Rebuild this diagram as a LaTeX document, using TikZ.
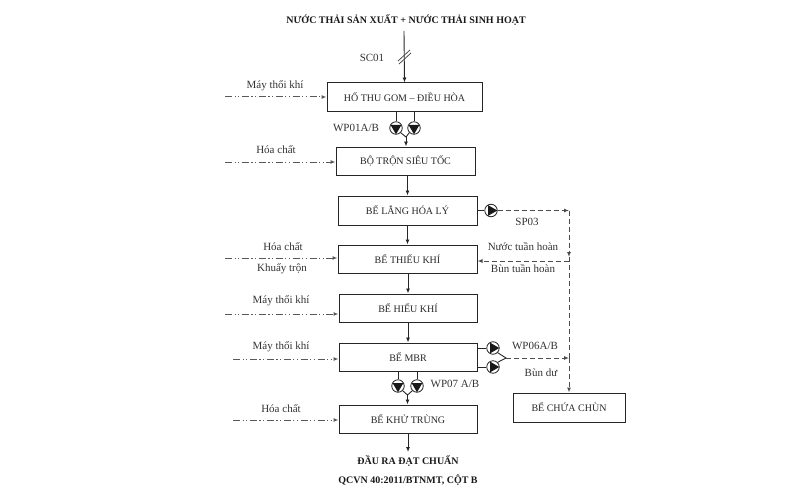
\documentclass[tikz,border=0pt]{standalone}
\usepackage{fontspec}
\setmainfont{Liberation Serif}
\usetikzlibrary{arrows.meta}
\tikzset{
  box/.style={draw=black!85, line width=1pt, minimum width=139pt, minimum height=28pt, inner sep=1pt, font=\fontsize{10}{11}\selectfont, text=black!85},
  lbl/.style={font=\fontsize{11}{12}\selectfont, text=black!80, inner sep=0.5pt},
  ttl/.style={font=\bfseries\fontsize{10}{11}\selectfont, text=black!90, inner sep=0.5pt},
  flow/.style={draw=black!85, line width=0.9pt},
  tip/.style={-{Latex[length=5pt,width=4pt]}},
  feed/.style={draw=black!65, line width=1pt, dash pattern=on 7pt off 2.5pt on 1.2pt off 2.5pt on 1.2pt off 2.5pt},
  dsh/.style={draw=black!70, line width=1pt, dash pattern=on 5pt off 3pt},
  pumpd/.style={circle, draw=black!85, line width=0.8pt, fill=white, minimum size=12.5pt, inner sep=0pt,
    path picture={\fill[black!90] ([xshift=-5.4pt,yshift=3pt]path picture bounding box.center) -- ([xshift=5.4pt,yshift=3pt]path picture bounding box.center) -- ([yshift=-6.3pt]path picture bounding box.center) -- cycle;}},
  pumpr/.style={circle, draw=black!85, line width=0.8pt, fill=white, minimum size=12.5pt, inner sep=0pt,
    path picture={\fill[black!90] ([xshift=-3pt,yshift=5.4pt]path picture bounding box.center) -- ([xshift=-3pt,yshift=-5.4pt]path picture bounding box.center) -- ([xshift=6.3pt]path picture bounding box.center) -- cycle;}},
}
\begin{document}
\begin{tikzpicture}[x=1pt,y=-1pt]
\useasboundingbox (0,0) rectangle (800,500);
% title
\node[ttl] (title) at (406,20) {NƯỚC THẢI SẢN XUẤT + NƯỚC THẢI SINH HOẠT};
% boxes
\node[box, minimum width=155pt, minimum height=29pt] (b1) at (404.5,97.5) {HỐ THU GOM – ĐIỀU HÒA};
\node[box] (b2) at (405.5,161) {BỘ TRỘN SIÊU TỐC};
\node[box, minimum height=29pt] (b3) at (407.5,210.5) {BỂ LẮNG HÓA LÝ};
\node[box] (b4) at (407.5,259) {BỂ THIẾU KHÍ};
\node[box, minimum width=138pt] (b5) at (408,308) {BỂ HIẾU KHÍ};
\node[box, minimum width=138pt] (b6) at (408,357) {BỂ MBR};
\node[box, minimum width=138pt] (b7) at (408,419) {BỂ KHỬ TRÙNG};
\node[box, minimum width=112pt, minimum height=29pt] (b8) at (569,407.5) {BỂ CHỨA CHÙN};
% inlet
\coordinate (in1) at (404,31);
\draw[flow,tip] (in1) -- (b1.north);
\coordinate (sl) at (405,57);
\draw[black!70, line width=0.8pt] ([shift={(-7,4)}]sl) -- ([shift={(5,-7)}]sl);
\draw[black!70, line width=0.8pt] ([shift={(-6,7)}]sl) -- ([shift={(6,-4)}]sl);
\node[lbl] (sc01) at (372,58) {SC01};
% WP01
\node[pumpd] (p1a) at (396,128) {};
\node[pumpd] (p1b) at (414,128) {};
\draw[flow] (b1.south -| p1a) -- (p1a);
\draw[flow] (b1.south -| p1b) -- (p1b);
\coordinate (j1) at (406,137);
\draw[flow] (p1a.south east) -- (j1) -- (p1b.south west);
\draw[flow,tip] (j1) -- (j1 |- b2.north);
\node[lbl] (wp01) at (356,128) {WP01A/B};
% main flow
\draw[flow,tip] (b2.south -| b3.north) -- (b3.north);
\draw[flow,tip] (b3.south) -- (b4.north);
\draw[flow,tip] (b4.south -| b5.north) -- (b5.north);
\draw[flow,tip] (b5.south) -- (b6.north);
% WP07
\node[pumpd] (p7a) at (398,386) {};
\node[pumpd] (p7b) at (417,386) {};
\draw[flow] (b6.south -| p7a) -- (p7a);
\draw[flow] (b6.south -| p7b) -- (p7b);
\coordinate (j7) at (407.5,395);
\draw[flow] (p7a.south east) -- (j7) -- (p7b.south west);
\draw[flow,tip] (j7) -- (j7 |- b7.north);
\node[lbl] (wp07) at (455,384) {WP07 A/B};
% outlet
\coordinate (out) at (408,452);
\draw[flow,tip] (b7.south) -- (out);
\node[ttl] (o1) at (408,461) {ĐẦU RA ĐẠT CHUẨN};
\node[ttl] (o2) at (408,480) {QCVN 40:2011/BTNMT, CỘT B};
% left feeds
\coordinate (f1) at (225,97);
\draw[feed,tip] (f1) -- (f1 -| b1.west);
\node[lbl] (l1) at (275,86) {Máy thổi khí};
\coordinate (f2) at (225,162);
\draw[feed,tip] (f2) -- (f2 -| b2.west);
\node[lbl] (l2) at (276,150) {Hóa chất};
\coordinate (f4) at (225,258);
\draw[feed,tip] (f4) -- (f4 -| b4.west);
\node[lbl] (l4a) at (283,247) {Hóa chất};
\node[lbl] (l4b) at (282,269) {Khuấy trộn};
\coordinate (f5) at (225,314);
\draw[feed,tip] (f5) -- (f5 -| b5.west);
\node[lbl] (l5) at (281,301) {Máy thổi khí};
\coordinate (f6) at (233,359);
\draw[feed,tip] (f6) -- (f6 -| b6.west);
\node[lbl] (l6) at (281,347) {Máy thổi khí};
\coordinate (f7) at (233,420);
\draw[feed,tip] (f7) -- (f7 -| b7.west);
\node[lbl] (l7) at (281,409) {Hóa chất};
% SP03 recirculation
\node[pumpr] (p3) at (491,210.5) {};
\draw[flow] (b3.east) -- (p3);
\coordinate (c1) at (569,210.5);
\coordinate (c2) at (569,257);
\coordinate (c3) at (569,261);
\coordinate (c4) at (569,358);
\draw[dsh,tip] (p3.east) -- (c1);
\draw[dsh,tip] (c1) -- (c2);
\draw[dsh] (c2) -- (c4);
\draw[dsh,tip] (c4) -- (b8.north);
\draw[dsh,tip] (c3) -- (c3 -| b4.east);
\node[lbl] (sp03) at (527,222) {SP03};
\node[lbl] (ntw) at (523,247) {Nước tuần hoàn};
\node[lbl] (btw) at (523,269) {Bùn tuần hoàn};
% WP06
\node[pumpr] (p6a) at (493,348) {};
\node[pumpr] (p6b) at (493,367) {};
\draw[flow] (b6.east |- p6a) -- (p6a);
\draw[flow] (b6.east |- p6b) -- (p6b);
\coordinate (j6) at (506,358);
\draw[flow] (p6a.south east) -- (j6) -- (p6b.north east);
\draw[dsh,tip] (j6) -- (c4);
\node[lbl] (wp06) at (535,346) {WP06A/B};
\node[lbl] (bd) at (541,373) {Bùn dư};
\end{tikzpicture}
\end{document}
